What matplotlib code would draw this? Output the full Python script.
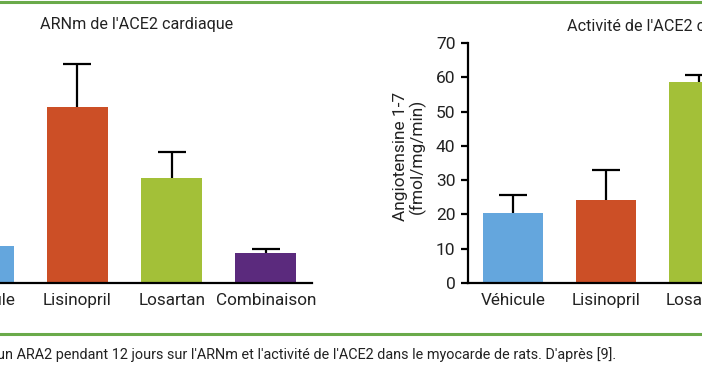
import matplotlib.pyplot as plt
from matplotlib.lines import Line2D

plt.rcParams['font.family'] = ['Roboto', 'DejaVu Sans']

# left panel: cardiac ACE2 mRNA (relative units, vehicle = 1)
arn_cats = ['Véhicule', 'Lisinopril', 'Losartan', 'Combinaison']
arn_vals = [1.0, 4.76, 2.84, 0.81]
arn_errs = [0.16, 1.16, 0.70, 0.11]

# right panel: cardiac ACE2 activity (fmol/mg/min)
act_cats = ['Véhicule', 'Lisinopril', 'Losartan']
act_vals = [20.3, 24.1, 58.5]
act_errs = [5.4, 9.0, 2.2]

colors = ['#64a6dd', '#cc4f26', '#a3c038', '#5b2a7d']
txt = '#222222'

W, H = 702, 370
fig = plt.figure(figsize=(W / 100, H / 100), dpi=100)

def px_box(x0, x1, ytop, ybot):
    return [x0 / W, 1 - ybot / H, (x1 - x0) / W, (ybot - ytop) / H]

# left axes
ax1 = fig.add_axes(px_box(-63.9, 312, 42.5, 283))
x1 = list(range(len(arn_cats)))
ax1.bar(x1, arn_vals, width=0.65, color=colors[:len(arn_cats)], zorder=2)
# symmetric bars drawn behind the columns, only the upper half shows
ax1.errorbar(x1, arn_vals, yerr=arn_errs, fmt='none',
             ecolor='black', elinewidth=1.6, capsize=10.4, capthick=1.6, zorder=1)
ax1.set_xlim(-0.5, 3.49)
ax1.set_ylim(0, 6.5)
ax1.set_yticks([])
for s in ['top', 'right', 'left']:
    ax1.spines[s].set_visible(False)
ax1.spines['bottom'].set_linewidth(1.6)
ax1.spines['bottom'].set_zorder(3)
ax1.set_xticks(x1)
ax1.set_xticklabels(arn_cats, fontsize=12.3, color=txt)
ax1.tick_params(axis='x', length=0, pad=7)

# right axes
ax2 = fig.add_axes(px_box(468, 838.5, 43, 283))
x2 = list(range(len(act_cats)))
ax2.bar(x2, act_vals, width=0.645, color=colors[:len(act_cats)], zorder=2)
ax2.errorbar(x2, act_vals, yerr=act_errs, fmt='none',
             ecolor='black', elinewidth=1.6, capsize=10.4, capthick=1.6, zorder=1)
ax2.set_xlim(-0.484, 3.5)
ax2.set_ylim(0, 70)
ax2.set_yticks(range(0, 71, 10))
for s in ['top', 'right']:
    ax2.spines[s].set_visible(False)
ax2.spines['bottom'].set_linewidth(1.6)
ax2.spines['left'].set_linewidth(1.6)
ax2.set_xticks(x2)
ax2.set_xticklabels(act_cats, fontsize=12.3, color=txt)
ax2.tick_params(axis='x', length=0, pad=7)
ax2.tick_params(axis='y', length=5, width=1.6, labelsize=12.5, labelcolor=txt, pad=4)
ax2.set_ylabel('Angiotensine 1-7\n(fmol/mg/min)', fontsize=12.4, color=txt,
               linespacing=1.1, va='center')
ax2.yaxis.set_label_coords(-0.158, 0.529)

# titles
fig.text(40 / W, 1 - 25 / H, "ARNm de l'ACE2 cardiaque", fontsize=11.6,
         color=txt, ha='left', va='center')
fig.text(567 / W, 1 - 27 / H, "Activité de l'ACE2 cardiaque", fontsize=11.6,
         color=txt, ha='left', va='center')

# caption
fig.text(-3 / W, 1 - 355 / H,
         "un ARA2 pendant 12 jours sur l'ARNm et l'activité de l'ACE2 dans le myocarde de rats. D'après [9].",
         fontsize=10.4, color=txt, ha='left', va='center')

# green rules
green = '#6aaa4a'
fig.add_artist(Line2D([0, 1], [1 - 1.5 / H] * 2, color=green, lw=2.2))
fig.add_artist(Line2D([0, 1], [1 - 334 / H] * 2, color=green, lw=2.2))

fig.savefig('out.png', dpi=100)
